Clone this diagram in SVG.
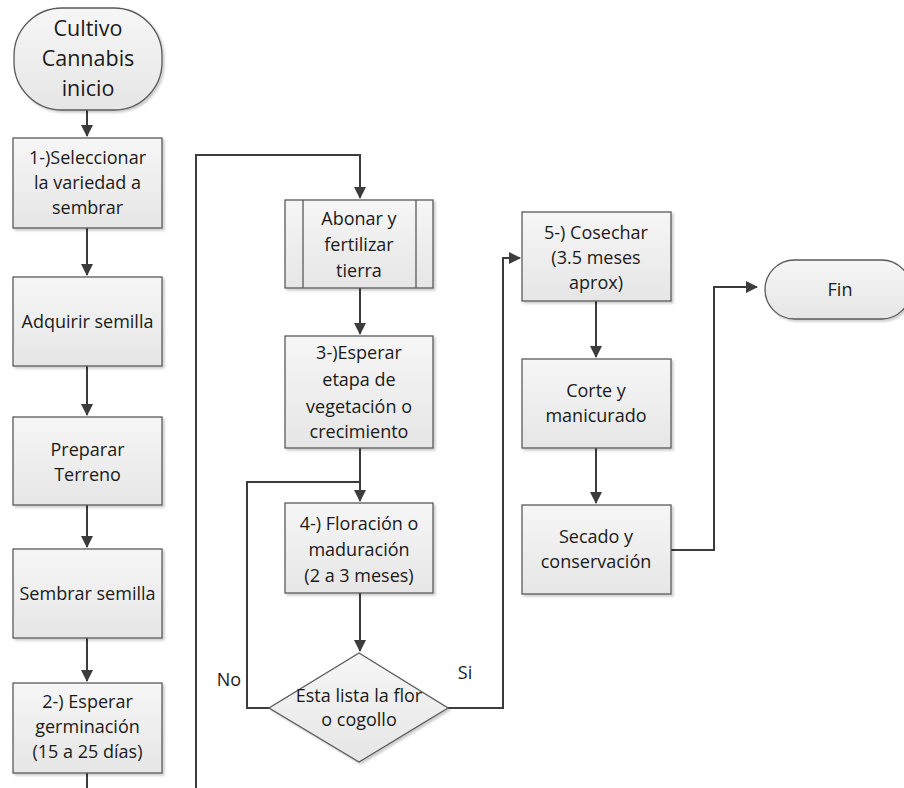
<svg xmlns="http://www.w3.org/2000/svg" width="904" height="788" viewBox="0 0 904 788">
<style>
.box{fill:url(#g);stroke:#5a5a5a;stroke-width:1.3}
.t{font-family:"Open Sans","Liberation Sans",sans-serif;font-size:18px;fill:#1a1a1a;text-anchor:middle}
.big{font-size:21.5px}
.c{fill:none;stroke:#3c3c3c;stroke-width:2}
</style>
<defs>
<linearGradient id="g" x1="0" y1="0" x2="0" y2="1"><stop offset="0" stop-color="#f6f6f6"/><stop offset="1" stop-color="#e6e6e6"/></linearGradient>
<marker id="a" markerWidth="12" markerHeight="12" refX="11" refY="6" orient="auto" markerUnits="userSpaceOnUse"><path d="M0,0 L12,6 L0,12 z" fill="#3c3c3c"/></marker>
<filter id="s" x="-10%" y="-10%" width="130%" height="130%"><feDropShadow dx="2" dy="2" stdDeviation="1" flood-color="#000" flood-opacity="0.2"/></filter>
</defs>

<g id="connectors">
<path class="c" d="M87,110 V136" marker-end="url(#a)"/>
<path class="c" d="M87,228 V275" marker-end="url(#a)"/>
<path class="c" d="M87,366 V415" marker-end="url(#a)"/>
<path class="c" d="M87,505 V547" marker-end="url(#a)"/>
<path class="c" d="M87,638 V681" marker-end="url(#a)"/>
<path class="c" d="M87,773 V788"/>
<path class="c" d="M196,788 V155 H360 V198" marker-end="url(#a)"/>
<path class="c" d="M360,288 V334" marker-end="url(#a)"/>
<path class="c" d="M360,448 V501" marker-end="url(#a)"/>
<path class="c" d="M360,593 V651" marker-end="url(#a)"/>
<path class="c" d="M269,708 H247 V482 H360"/>
<path class="c" d="M448,708 H503 V258 H520" marker-end="url(#a)"/>
<path class="c" d="M596,301 V357" marker-end="url(#a)"/>
<path class="c" d="M596,448 V503" marker-end="url(#a)"/>
<path class="c" d="M671,550 H714 V287 H757" marker-end="url(#a)"/>
<text class="t" x="229" y="686">No</text>
<text class="t" x="465" y="679">Si</text>
</g>

<g id="inicio">
<rect class="box" x="14" y="8" width="148" height="102" rx="48" filter="url(#s)"/>
<text class="t big" x="88" y="36">Cultivo</text>
<text class="t big" x="88" y="66">Cannabis</text>
<text class="t big" x="88" y="96">inicio</text>
</g>

<g id="n1">
<rect class="box" x="13" y="138" width="149" height="90" filter="url(#s)"/>
<text class="t" x="87.5" y="164">1-)Seleccionar</text>
<text class="t" x="87.5" y="189">la variedad a</text>
<text class="t" x="87.5" y="214">sembrar</text>
</g>

<g id="n2">
<rect class="box" x="13" y="277" width="149" height="89" filter="url(#s)"/>
<text class="t" x="87.5" y="328">Adquirir semilla</text>
</g>

<g id="n3">
<rect class="box" x="13" y="417" width="149" height="88" filter="url(#s)"/>
<text class="t" x="87.5" y="456">Preparar</text>
<text class="t" x="87.5" y="481">Terreno</text>
</g>

<g id="n4">
<rect class="box" x="13" y="549" width="149" height="89" filter="url(#s)"/>
<text class="t" x="87.5" y="600">Sembrar semilla</text>
</g>

<g id="n5">
<rect class="box" x="13" y="683" width="149" height="90" filter="url(#s)"/>
<text class="t" x="87.5" y="708">2-) Esperar</text>
<text class="t" x="87.5" y="733">germinación</text>
<text class="t" x="87.5" y="758">(15 a 25 días)</text>
</g>

<g id="abonar">
<rect class="box" x="285" y="200" width="148" height="88" filter="url(#s)"/>
<line x1="303" y1="200" x2="303" y2="288" stroke="#5a5a5a" stroke-width="1.3"/>
<line x1="416" y1="200" x2="416" y2="288" stroke="#5a5a5a" stroke-width="1.3"/>
<text class="t" x="359" y="225">Abonar y</text>
<text class="t" x="359" y="251">fertilizar</text>
<text class="t" x="359" y="277">tierra</text>
</g>

<g id="n6">
<rect class="box" x="285" y="336" width="148" height="112" filter="url(#s)"/>
<text class="t" x="359" y="359">3-)Esperar</text>
<text class="t" x="359" y="386">etapa de</text>
<text class="t" x="359" y="413">vegetación o</text>
<text class="t" x="359" y="438">crecimiento</text>
</g>

<g id="n7">
<rect class="box" x="285" y="503" width="148" height="90" filter="url(#s)"/>
<text class="t" x="359" y="530">4-) Floración o</text>
<text class="t" x="359" y="556">maduración</text>
<text class="t" x="359" y="582">(2 a 3 meses)</text>
</g>

<g id="decision">
<polygon class="box" points="359,653 448,708 359,762 269,708" filter="url(#s)"/>
<text class="t" x="359" y="702">Esta lista la flor</text>
<text class="t" x="359" y="726">o cogollo</text>
</g>

<g id="n8">
<rect class="box" x="522" y="212" width="149" height="89" filter="url(#s)"/>
<text class="t" x="596" y="239">5-) Cosechar</text>
<text class="t" x="596" y="264">(3.5 meses</text>
<text class="t" x="596" y="289">aprox)</text>
</g>

<g id="n9">
<rect class="box" x="522" y="359" width="149" height="89" filter="url(#s)"/>
<text class="t" x="596" y="397">Corte y</text>
<text class="t" x="596" y="422">manicurado</text>
</g>

<g id="n10">
<rect class="box" x="522" y="505" width="149" height="89" filter="url(#s)"/>
<text class="t" x="596" y="543">Secado y</text>
<text class="t" x="596" y="568">conservación</text>
</g>

<g id="fin">
<rect class="box" x="765" y="260" width="146" height="59" rx="29.5" filter="url(#s)"/>
<text class="t" x="840" y="296">Fin</text>
</g>
</svg>
